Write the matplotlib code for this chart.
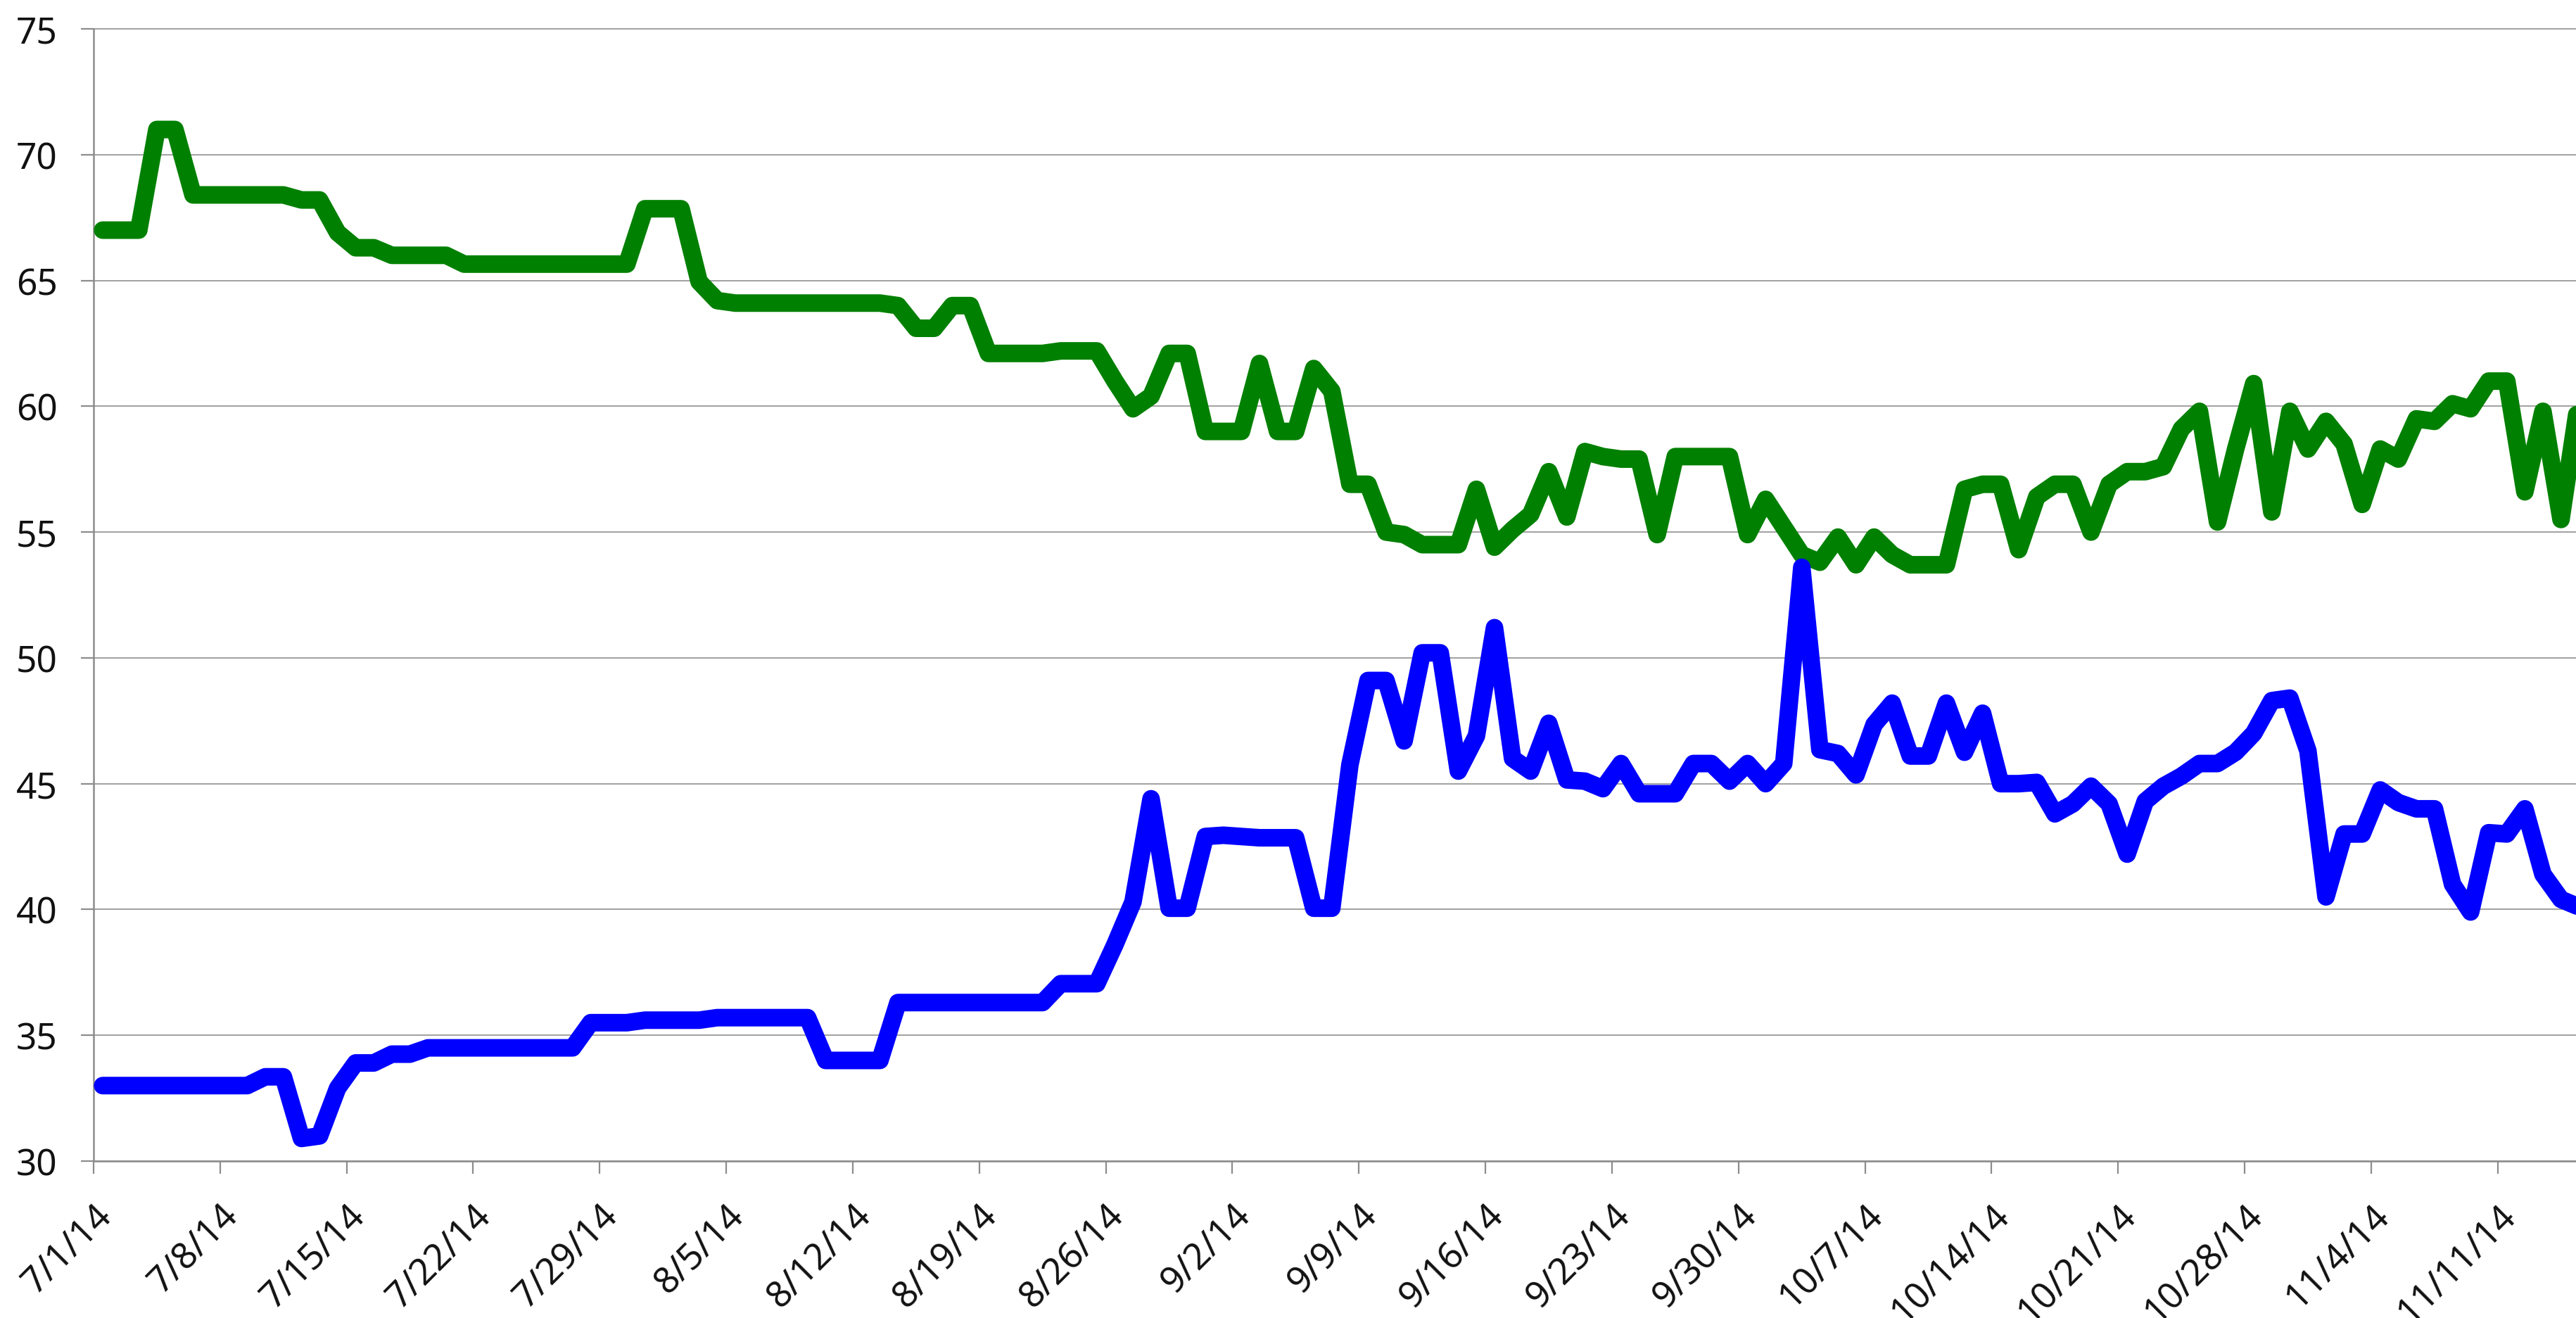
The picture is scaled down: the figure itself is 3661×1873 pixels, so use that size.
import datetime as dt
import numpy as np
import matplotlib
matplotlib.use('Agg')
import matplotlib.pyplot as plt

plt.rcParams['font.family'] = ['Noto Sans', 'DejaVu Sans']

start = dt.date(2014, 7, 1)

# daily values from 7/1/14, one per day
green = [
	67.0, 67.0, 67.0, 71.0, 71.0, 68.4, 68.4, 68.4, 68.4, 68.4,
	68.4, 68.2, 68.2, 66.9, 66.3, 66.3, 66.0, 66.0, 66.0, 66.0,
	65.65, 65.65, 65.65, 65.65, 65.65, 65.65, 65.65, 65.65, 65.65, 65.65,
	67.85, 67.85, 67.85, 64.95, 64.2, 64.1, 64.1, 64.1, 64.1, 64.1,
	64.1, 64.1, 64.1, 64.1, 64.0, 63.1, 63.1, 64.0, 64.0, 62.1,
	62.1, 62.1, 62.1, 62.2, 62.2, 62.2, 61.0, 59.9, 60.4, 62.1,
	62.1, 59.0, 59.0, 59.0, 61.7, 59.0, 59.0, 61.5, 60.6, 56.9,
	56.9, 55.0, 54.9, 54.5, 54.5, 54.5, 56.7, 54.4, 55.1, 55.7,
	57.4, 55.6, 58.2, 58.0, 57.9, 57.9, 54.9, 58.0, 58.0, 58.0,
	58.0, 54.9, 56.3, 55.2, 54.1, 53.8, 54.8, 53.7, 54.8, 54.1,
	53.7, 53.7, 53.7, 56.7, 56.9, 56.9, 54.3, 56.4, 56.9, 56.9,
	55.0, 56.9, 57.4, 57.4, 57.6, 59.1, 59.8, 55.4, 58.3, 60.9,
	55.8, 59.8, 58.3, 59.4, 58.5, 56.1, 58.3, 57.9, 59.5, 59.4,
	60.1, 59.9, 61.0, 61.0, 56.6, 59.8, 55.5, 60.3,
]

blue = [
	33.0, 33.0, 33.0, 33.0, 33.0, 33.0, 33.0, 33.0, 33.0, 33.35,
	33.35, 30.9, 31.0, 32.9, 33.9, 33.9, 34.25, 34.25, 34.5, 34.5,
	34.5, 34.5, 34.5, 34.5, 34.5, 34.5, 34.5, 35.5, 35.5, 35.5,
	35.6, 35.6, 35.6, 35.6, 35.7, 35.7, 35.7, 35.7, 35.7, 35.7,
	34.0, 34.0, 34.0, 34.0, 36.3, 36.3, 36.3, 36.3, 36.3, 36.3,
	36.3, 36.3, 36.3, 37.05, 37.05, 37.05, 38.6, 40.3, 44.4, 40.05,
	40.05, 42.9, 42.95, 42.9, 42.85, 42.85, 42.85, 40.05, 40.05, 45.75,
	49.1, 49.1, 46.7, 50.2, 50.2, 45.5, 46.9, 51.2, 46.0, 45.5,
	47.4, 45.15, 45.1, 44.8, 45.8, 44.6, 44.6, 44.6, 45.8, 45.8,
	45.1, 45.8, 45.0, 45.8, 53.6, 46.35, 46.2, 45.35, 47.35, 48.2,
	46.1, 46.1, 48.2, 46.25, 47.8, 45.0, 45.0, 45.05, 43.8, 44.2,
	44.9, 44.2, 42.2, 44.3, 44.9, 45.3, 45.8, 45.8, 46.25, 47.0,
	48.3, 48.4, 46.3, 40.5, 43.0, 43.0, 44.75, 44.25, 44.0, 44.0,
	41.0, 39.9, 43.05, 43.0, 44.0, 41.4, 40.4, 40.1,
]

y_ticks = [30, 35, 40, 45, 50, 55, 60, 65, 70, 75]
tick_days = list(range(0, 134, 7))

W, H = 3662, 1874
fig = plt.figure(figsize=(W / 100, H / 100), dpi=100)
ax = fig.add_axes([133 / W, 223 / H, 1 - 133 / W, (1651 - 42) / H])

# points sit in the middle of each day slot
x = np.arange(len(green)) + 0.5
ax.plot(x, green, color='#008000', lw=18, solid_capstyle='round', solid_joinstyle='round', clip_on=False, zorder=3)
ax.plot(x, blue, color='#0000ff', lw=18, solid_capstyle='round', solid_joinstyle='round', clip_on=False, zorder=4)

ax.set_xlim(0, (W - 133) / 25.69)
ax.set_ylim(30, 75)

grid_col = '#a0a0a0'
ax.set_yticks(y_ticks)
ax.set_yticklabels([str(v) for v in y_ticks])
ax.yaxis.grid(True, color=grid_col, lw=1.4)
for line in ax.get_ygridlines():
	line.set_clip_on(False)

labels = []
for d in tick_days:
	day = start + dt.timedelta(days=d)
	labels.append('%d/%d/%d' % (day.month, day.day, day.year % 100))
ax.set_xticks(tick_days)
ax.set_xticklabels(labels, rotation=45, ha='right', va='top', rotation_mode='anchor')

for side in ['top', 'right']:
	ax.spines[side].set_visible(False)
for side in ['left', 'bottom']:
	ax.spines[side].set_color('#8c8c8c')
	ax.spines[side].set_linewidth(1.8)

ax.tick_params(axis='both', colors='#8c8c8c', length=13, width=1.6, labelsize=37, labelcolor='#111111')
ax.tick_params(axis='y', pad=24)
ax.tick_params(axis='x', pad=24)

fig.savefig('out.png', dpi=100)
